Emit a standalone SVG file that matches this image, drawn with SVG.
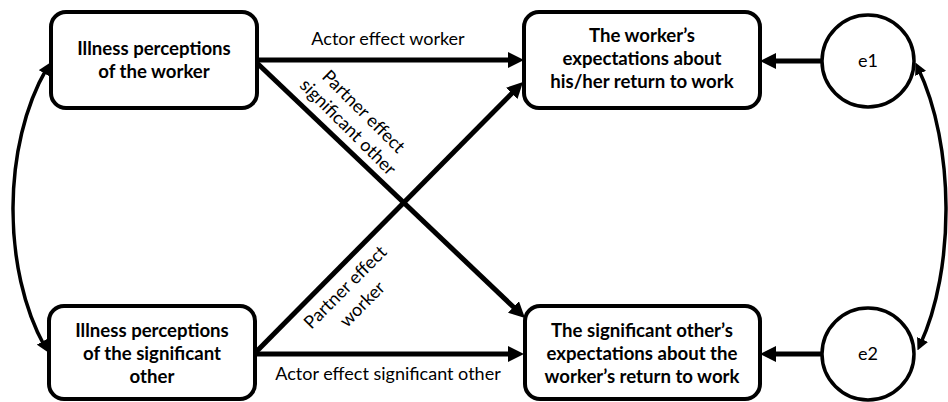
<svg xmlns="http://www.w3.org/2000/svg" width="948" height="402" viewBox="0 0 948 402">
<style>
.box{fill:#fff;stroke:#000;stroke-width:4}
.circ{fill:#fff;stroke:#000;stroke-width:3.5}
.nt{font-family:Lato,"Open Sans",sans-serif;font-weight:bold;font-size:18.6px;text-anchor:middle;fill:#000}
.lt{font-family:Lato,"Open Sans",sans-serif;font-size:18px;text-anchor:middle;fill:#000}
.ln{stroke:#000;stroke-width:5;fill:none}
.cv{stroke:#000;stroke-width:3.5;fill:none}
</style>
<defs>
<marker id="ah" markerUnits="userSpaceOnUse" markerWidth="16" markerHeight="16" refX="8" refY="8" orient="auto"><path d="M0,0 L16,8 L0,16 z" fill="#000"/></marker>
<marker id="sh" markerUnits="userSpaceOnUse" markerWidth="12" markerHeight="12" refX="6" refY="6" orient="auto-start-reverse"><path d="M0,0 L12,6 L0,12 z" fill="#000"/></marker>
</defs>
<rect width="948" height="402" fill="#fff"/>
<g id="connectors">
<line class="ln" x1="257" y1="60" x2="516" y2="60" marker-end="url(#ah)"/>
<line class="ln" x1="255" y1="354" x2="516" y2="354" marker-end="url(#ah)"/>
<line class="ln" x1="257" y1="63" x2="519.2" y2="312.5" marker-end="url(#ah)"/>
<line class="ln" x1="255" y1="353" x2="517.4" y2="87.7" marker-end="url(#ah)"/>
<line class="ln" x1="822" y1="61" x2="768" y2="61" marker-end="url(#ah)"/>
<line class="ln" x1="822" y1="354" x2="768" y2="354" marker-end="url(#ah)"/>
<path class="cv" d="M47,68 C2,145 2,270 45,347" marker-start="url(#sh)" marker-end="url(#sh)"/>
<path class="cv" d="M918,68 C955,145 955,270 920,345" marker-start="url(#sh)" marker-end="url(#sh)"/>
<text class="lt" x="388" y="45">Actor effect worker</text>
<text class="lt" x="388" y="380">Actor effect significant other</text>
<g transform="translate(355,120) rotate(45)"><text class="lt" x="0" y="-6">Partner effect</text><text class="lt" x="0" y="16">significant other</text></g>
<g transform="translate(354.5,296.5) rotate(-45)"><text class="lt" x="0" y="-7">Partner effect</text><text class="lt" x="0" y="17">worker</text></g>
</g>
<g id="ip-worker"><rect class="box" x="51" y="12" width="206" height="96" rx="15"/><text class="nt" x="154" y="55">Illness perceptions</text><text class="nt" x="154" y="78">of the worker</text></g>
<g id="ip-so"><rect class="box" x="49" y="306" width="206" height="93" rx="15"/><text class="nt" x="152" y="337">Illness perceptions</text><text class="nt" x="152" y="360">of the significant</text><text class="nt" x="152" y="383">other</text></g>
<g id="exp-worker"><rect class="box" x="524" y="12" width="236" height="96" rx="15"/><text class="nt" x="642" y="42">The worker’s</text><text class="nt" x="642" y="65">expectations about</text><text class="nt" x="642" y="88">his/her return to work</text></g>
<g id="exp-so"><rect class="box" x="525" y="306" width="235" height="93" rx="15"/><text class="nt" x="642" y="337">The significant other’s</text><text class="nt" x="642" y="360">expectations about the</text><text class="nt" x="642" y="383">worker’s return to work</text></g>
<g id="e1"><circle class="circ" cx="868" cy="61" r="46"/><text class="lt" x="868" y="67">e1</text></g>
<g id="e2"><circle class="circ" cx="868" cy="354" r="46"/><text class="lt" x="868" y="360">e2</text></g>
</svg>
